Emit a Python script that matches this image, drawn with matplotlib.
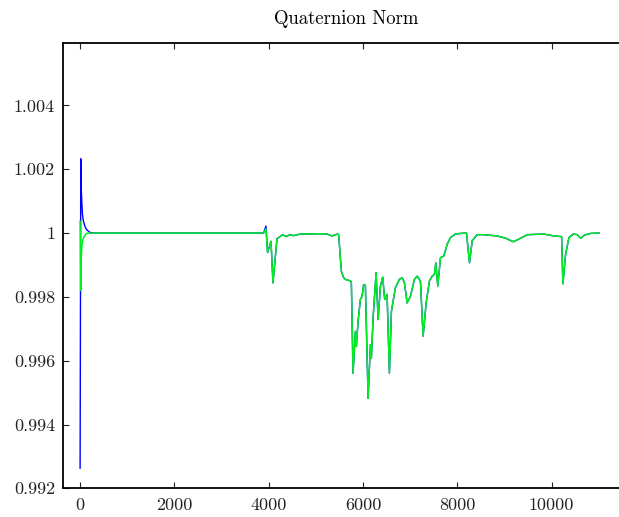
import matplotlib
matplotlib.use("Agg")
import matplotlib.pyplot as plt
import numpy as np

# green trace (sample index, norm)
green_x = [1, 15, 21, 36, 49, 70, 106, 142, 212, 3891, 3942, 3976, 4049, 4091, 4176,
           4295, 4373, 4443, 4528, 4671, 5095, 5237, 5344, 5462, 5484, 5541, 5590,
           5626, 5732, 5753, 5789, 5838, 5859, 5896, 5944, 5980, 6015, 6051, 6108,
           6157, 6178, 6214, 6278, 6321, 6369, 6418, 6460, 6511, 6560, 6603, 6687,
           6772, 6830, 6879, 6936, 7006, 7091, 7148, 7218, 7275, 7339, 7409, 7467,
           7515, 7543, 7586, 7643, 7713, 7785, 7855, 7961, 8067, 8195, 8258, 8316,
           8422, 8562, 8846, 9023, 9186, 9305, 9484, 9836, 10048, 10212, 10239,
           10297, 10367, 10460, 10545, 10615, 10700, 10827, 11004]
green_y = [1.00037, 0.99820, 0.99910, 0.99955, 0.99973, 0.99984, 0.99994, 0.99999,
           1.0, 1.0, 1.000135, 0.99939, 0.99974, 0.99844, 0.99982, 0.99995, 0.99989,
           0.99995, 0.99992, 0.99997, 0.99998, 0.99997, 0.99991, 0.99997, 0.99995,
           0.99880, 0.99860, 0.99855, 0.99850, 0.99847, 0.99561, 0.99692, 0.99645,
           0.99724, 0.99792, 0.99802, 0.99839, 0.99836, 0.99482, 0.99650, 0.99608,
           0.99734, 0.99876, 0.99729, 0.99834, 0.99862, 0.99792, 0.99808, 0.99561,
           0.99755, 0.99829, 0.99855, 0.99860, 0.99844, 0.99781, 0.99802, 0.99855,
           0.99865, 0.99850, 0.99677, 0.99781, 0.99850, 0.99865, 0.99871, 0.99907,
           0.99834, 0.99923, 0.99928, 0.99965, 0.99986, 0.99997, 0.99999, 1.0,
           0.99907, 0.99976, 0.99995, 0.99995, 0.99991, 0.99984, 0.99973, 0.99981,
           0.99995, 0.99997, 0.99991, 0.99989, 0.99841, 0.99934, 0.99986, 0.99997,
           0.99995, 0.99984, 0.99994, 0.99999, 1.0]

# blue trace differs only at the start and at the small blip near 3940
blue_start_x = [1, 15, 21, 36, 49, 70, 106, 142, 212, 318]
blue_start_y = [0.99263, 1.00233, 1.00155, 1.00102, 1.00061, 1.00038, 1.00020,
                1.00010, 1.00002, 1.0]
blue_blip = (3942, 1.00022)

xticks = [0, 2000, 4000, 6000, 8000, 10000]
yticks = [0.992, 0.994, 0.996, 0.998, 1.0, 1.002, 1.004]
ytick_labels = ["0.992", "0.994", "0.996", "0.998", "1", "1.002", "1.004"]

gx = np.array(green_x, dtype=float)
gy = np.array(green_y)
tail = gx > blue_start_x[-1]
bx = np.concatenate([blue_start_x, gx[tail]])
by = np.concatenate([blue_start_y, gy[tail]])
by[bx == blue_blip[0]] = blue_blip[1]

plt.rcParams['font.family'] = ['cmr10', 'DejaVu Serif']
plt.rcParams['mathtext.fontset'] = 'cm'

fig = plt.figure(figsize=(6.19, 5.17), dpi=100)
# axes run past the right edge of the figure, as in the cropped original
ax = fig.add_axes([0.1023, 0.0555, 0.915, 0.8608])

ax.plot(bx, by, color='#0000ff', lw=1.0)
ax.plot(gx, gy, color='#00ee22', lw=1.1)

ax.set_xlim(-355, 11656)
ax.set_ylim(0.992, 1.00595)
ax.set_xticks(xticks)
ax.set_xticklabels([str(t) for t in xticks])
ax.set_yticks(yticks)
ax.set_yticklabels(ytick_labels)

ax.tick_params(direction='in', length=4, width=0.8, top=True, right=True,
               labelsize=13, labelcolor='#222222', colors='#222222')
ax.tick_params(axis='x', pad=7)
ax.tick_params(axis='y', pad=6)
for s in ax.spines.values():
    s.set_linewidth(1.3)

ax.set_title("Quaternion Norm", fontsize=13.5, pad=14)

fig.savefig("out.png", dpi=100)
